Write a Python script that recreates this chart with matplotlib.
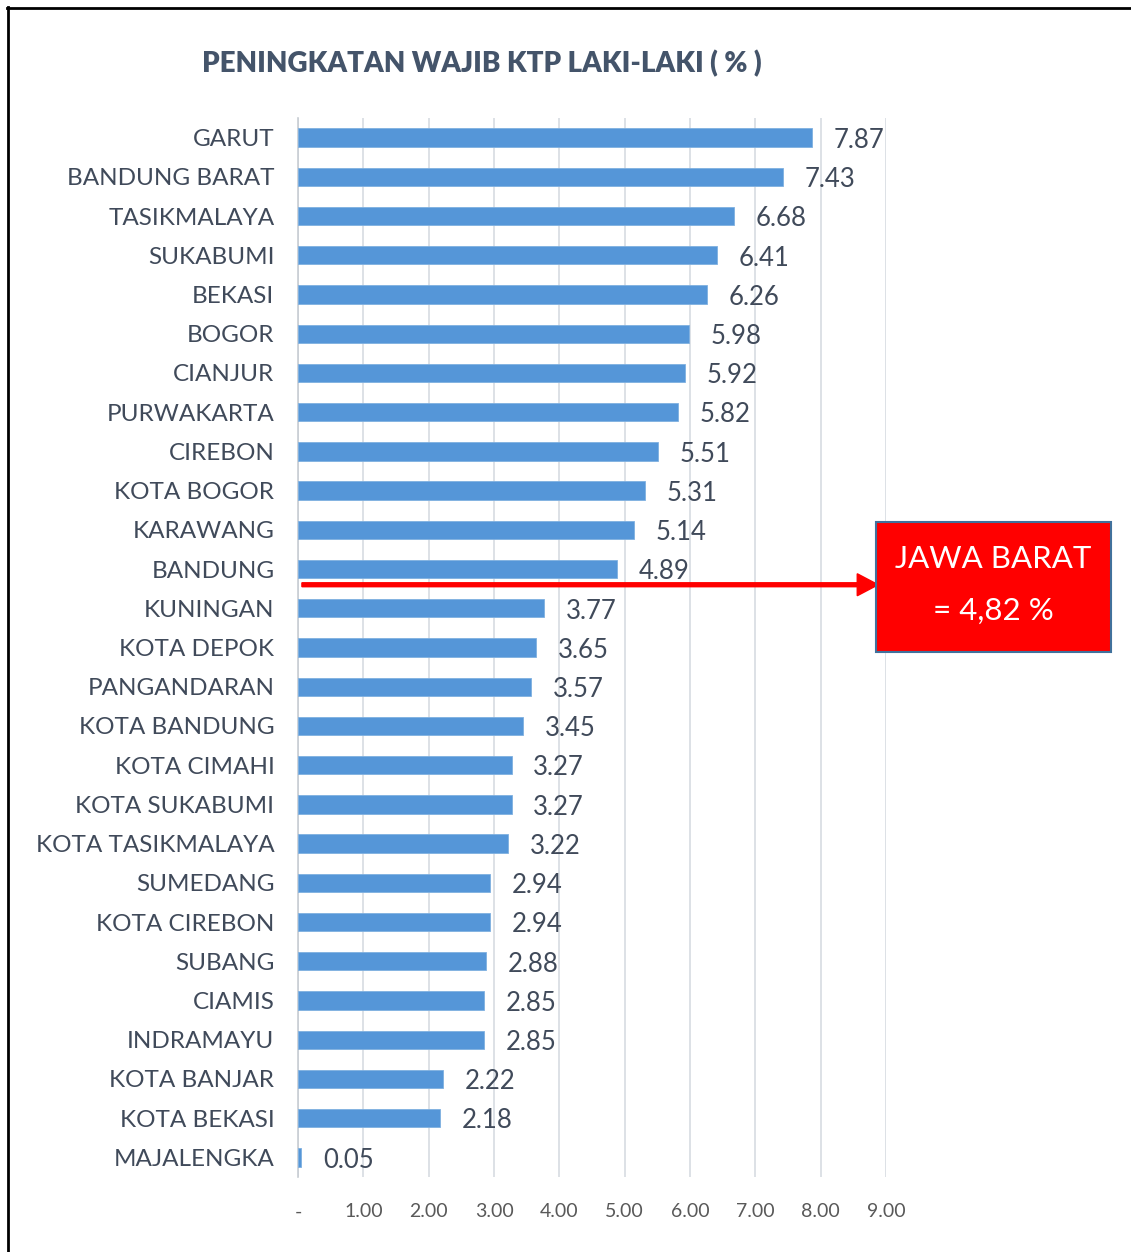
import matplotlib.pyplot as plt
from matplotlib.lines import Line2D
from matplotlib.patches import FancyArrow, Rectangle

regions = [
    "GARUT", "BANDUNG BARAT", "TASIKMALAYA", "SUKABUMI", "BEKASI", "BOGOR",
    "CIANJUR", "PURWAKARTA", "CIREBON", "KOTA BOGOR", "KARAWANG", "BANDUNG",
    "KUNINGAN", "KOTA DEPOK", "PANGANDARAN", "KOTA BANDUNG", "KOTA CIMAHI",
    "KOTA SUKABUMI", "KOTA TASIKMALAYA", "SUMEDANG", "KOTA CIREBON", "SUBANG",
    "CIAMIS", "INDRAMAYU", "KOTA BANJAR", "KOTA BEKASI", "MAJALENGKA",
]
increase_pct = [
    7.87, 7.43, 6.68, 6.41, 6.26, 5.98, 5.92, 5.82, 5.51, 5.31, 5.14, 4.89,
    3.77, 3.65, 3.57, 3.45, 3.27, 3.27, 3.22, 2.94, 2.94, 2.88, 2.85, 2.85,
    2.22, 2.18, 0.05,
]
x_ticks = [0, 1, 2, 3, 4, 5, 6, 7, 8, 9]
x_tick_labels = ["-", "1.00", "2.00", "3.00", "4.00", "5.00", "6.00", "7.00", "8.00", "9.00"]
province_name = "JAWA BARAT"
province_value = "= 4,82 %"

FONT = ["Lato", "DejaVu Sans"]
TEXT_COLOR = "#404A5A"
TITLE_COLOR = "#44546A"
BAR_COLOR = "#5596D8"

plt.rcParams["font.family"] = FONT

W, H = 1131, 1252
fig = plt.figure(figsize=(W / 100, H / 100), dpi=100)
ax = fig.add_axes([298 / W, 1 - 1177 / H, 588 / W, (1177 - 118) / H])

y = list(range(len(regions)))
ax.barh(y, increase_pct, height=0.47, color=BAR_COLOR, edgecolor="#7FB0E0",
        linewidth=0.6, zorder=3)

for yi, v in zip(y, increase_pct):
    ax.text(v + 0.33, yi + 0.07, f"{v:.2f}", ha="left", va="center",
            fontsize=18.5, color=TEXT_COLOR, zorder=4)

ax.set_xlim(0, 9)
ax.set_ylim(len(regions) - 0.5, -0.5)
ax.set_yticks(y)
ax.set_yticklabels(regions, fontsize=17.5, color=TEXT_COLOR)
ax.set_xticks(x_ticks)
ax.set_xticklabels(x_tick_labels, fontsize=14, color="#595959")
ax.tick_params(axis="both", length=0)
ax.tick_params(axis="y", pad=17)
ax.tick_params(axis="x", pad=19)
ax.grid(axis="x", color="#DDE1E6", linewidth=1.4, zorder=0)
for side in ("top", "right", "bottom"):
    ax.spines[side].set_visible(False)
ax.spines["left"].set_color("#C8CDD3")
ax.spines["left"].set_linewidth(1.2)

fig.text(482 / W, 1 - 64 / H, "PENINGKATAN WAJIB KTP LAKI-LAKI ( % )",
         ha="center", va="center", fontsize=20, fontweight="heavy",
         color=TITLE_COLOR)

# red arrow from the bars to the provincial average box
arrow_y = 11.4
ax.add_patch(FancyArrow(0.06, arrow_y, 8.88 - 0.06, 0, width=0.1,
                        head_width=0.56, head_length=0.32,
                        length_includes_head=True, color="#FF0000",
                        clip_on=False, zorder=5))

box = Rectangle((876 / W, 1 - 652 / H), 235 / W, 130 / H,
                transform=fig.transFigure, facecolor="#FF0000",
                edgecolor="#41719C", linewidth=1.5, zorder=6)
fig.patches.append(box)
box_x = (876 + 1111) / 2 / W
fig.text(box_x, 1 - 559 / H, province_name, ha="center", va="center",
         fontsize=22.5, color="white", zorder=7)
fig.text(box_x, 1 - 611 / H, province_value, ha="center", va="center",
         fontsize=22.5, color="white", zorder=7)

# outer frame, open on the right and bottom
fig.add_artist(Line2D([7 / W, 1.0], [1 - 8 / H, 1 - 8 / H], color="black",
                      linewidth=2, transform=fig.transFigure))
fig.add_artist(Line2D([8 / W, 8 / W], [0.0, 1 - 7 / H], color="black",
                      linewidth=2, transform=fig.transFigure))

fig.savefig("out.png", dpi=100, facecolor="white")
